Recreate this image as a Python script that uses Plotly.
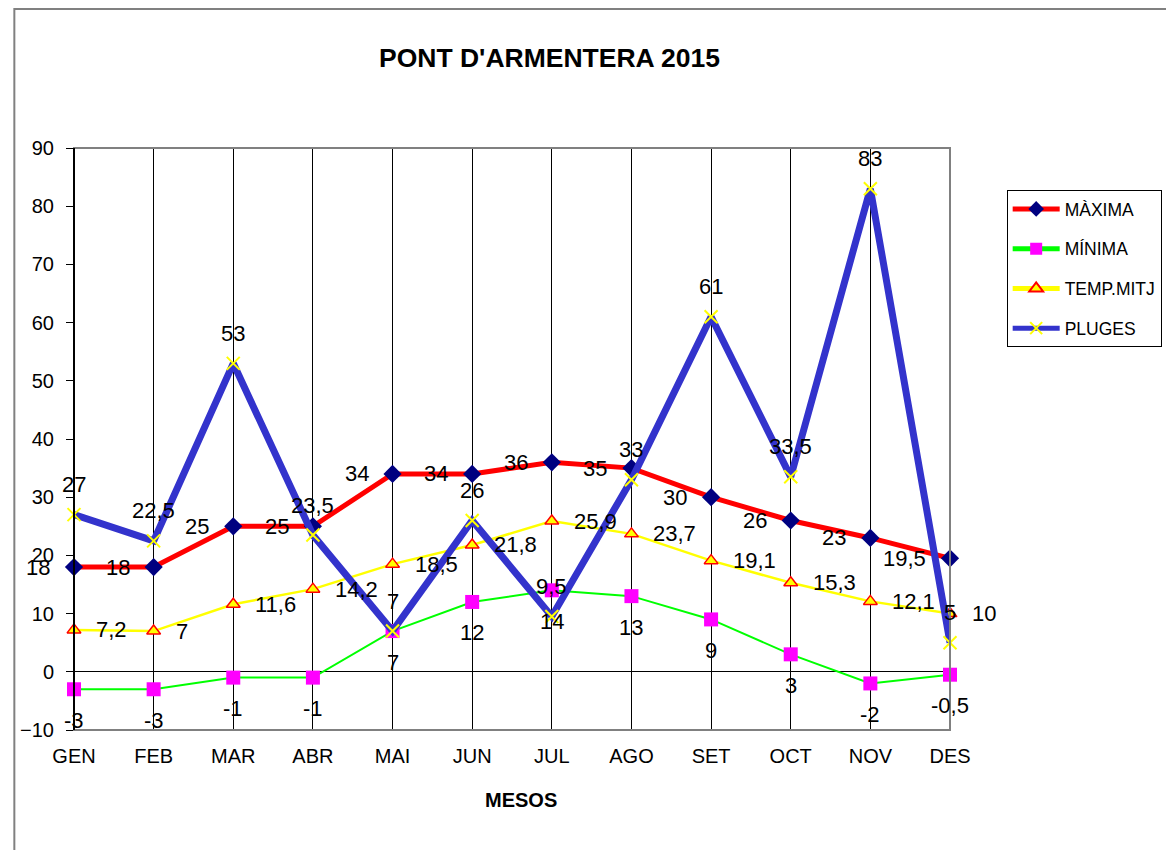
import plotly.graph_objects as go

months = ["GEN", "FEB", "MAR", "ABR", "MAI", "JUN", "JUL", "AGO", "SET", "OCT", "NOV", "DES"]
maxima = [18, 18, 25, 25, 34, 34, 36, 35, 30, 26, 23, 19.5]
minima = [-3, -3, -1, -1, 7, 12, 14, 13, 9, 3, -2, -0.5]
temp_mitj = [7.2, 7, 11.6, 14.2, 18.5, 21.8, 25.9, 23.7, 19.1, 15.3, 12.1, 10]
pluges = [27, 22.5, 53, 23.5, 7, 26, 9.5, 33, 61, 33.5, 83, 5]

FONT = "Liberation Sans, Arial, sans-serif"
OFF = 8  # page body margin
W, H = 1174 - OFF, 850 - OFF
# plot area in screenshot pixels
L, R, T, B = 69, 950, 148, 730
Lf, Rf, Tf, Bf = L - OFF, R - OFF, T - OFF, B - OFF


def px(xp):
    return (xp - L) / (R - L)


def py(yp):
    return (B - yp) / (B - T)


def fmt(v):
    return f"{v:g}".replace(".", ",")


fig = go.Figure()

fig.add_trace(go.Scatter(
    x=months, y=maxima, name="MÀXIMA", mode="lines+markers",
    line=dict(color="#FF0000", width=5),
    marker=dict(symbol="diamond", size=14, color="#000080", line=dict(width=0)),
    cliponaxis=False, legendgroup="a"))
fig.add_trace(go.Scatter(
    x=months, y=minima, name="MÍNIMA", mode="lines+markers",
    line=dict(color="#00FF00", width=2),
    marker=dict(symbol="square", size=14, color="#FF00FF", line=dict(width=0)),
    cliponaxis=False, legendgroup="b"))
fig.add_trace(go.Scatter(
    x=months, y=temp_mitj, name="TEMP.MITJ", mode="lines+markers",
    line=dict(color="#FFFF00", width=2.5),
    marker=dict(symbol="triangle-up", size=12, color="#FFFF00", line=dict(color="#FF0000", width=1.5)),
    cliponaxis=False, legendgroup="c"))
fig.add_trace(go.Scatter(
    x=months, y=pluges, name="PLUGES", mode="lines+markers",
    line=dict(color="#3333CC", width=7),
    marker=dict(symbol="x-thin-open", size=13, color="#FFFF00", line=dict(color="#FFFF00", width=2)),
    cliponaxis=False, legendgroup="d"))

annotations = []
lab_font = dict(family=FONT, size=22, color="black")
for m, v in zip(months, maxima):
    annotations.append(dict(x=m, y=v, xref="x", yref="y", text=fmt(v), showarrow=False,
                            xanchor="right", yanchor="middle", xshift=-22, font=lab_font))
for m, v in zip(months, minima):
    annotations.append(dict(x=m, y=v, xref="x", yref="y", text=fmt(v), showarrow=False,
                            xanchor="center", yanchor="middle", yshift=-31, font=lab_font))
for m, v in zip(months, temp_mitj):
    annotations.append(dict(x=m, y=v, xref="x", yref="y", text=fmt(v), showarrow=False,
                            xanchor="left", yanchor="middle", xshift=20, font=lab_font))
for m, v in zip(months, pluges):
    annotations.append(dict(x=m, y=v, xref="x", yref="y", text=fmt(v), showarrow=False,
                            xanchor="center", yanchor="middle", yshift=30, font=lab_font))

annotations.append(dict(x=px(547.5), y=py(58), xref="paper", yref="paper",
                        text="<b>PONT D'ARMENTERA 2015</b>", showarrow=False,
                        xanchor="center", yanchor="middle",
                        font=dict(family=FONT, size=26.5, color="black")))
annotations.append(dict(x=px(519), y=py(800), xref="paper", yref="paper",
                        text="<b>MESOS</b>", showarrow=False,
                        xanchor="center", yanchor="middle",
                        font=dict(family=FONT, size=20, color="black")))

shapes = [
    dict(type="rect", xref="paper", yref="paper", x0=0, x1=1, y0=0, y1=1,
         line=dict(color="#808080", width=2), layer="above"),
    dict(type="line", xref="paper", yref="paper", x0=0, x1=0, y0=0, y1=1,
         line=dict(color="black", width=2), layer="above"),
    dict(type="rect", xref="paper", yref="paper",
         x0=px(OFF + 1), x1=px(1190), y0=py(870), y1=py(OFF + 1),
         line=dict(color="#808080", width=2), layer="above"),
]

fig.update_layout(
    width=W, height=H,
    margin=dict(l=Lf, r=W - Rf, t=Tf, b=H - Bf, pad=0),
    paper_bgcolor="white", plot_bgcolor="white",
    font=dict(family=FONT, color="black"),
    showlegend=True,
    legend=dict(x=px(1007), y=py(190), xanchor="left", yanchor="top",
                bordercolor="black", borderwidth=1, bgcolor="white",
                font=dict(family=FONT, size=17.5, color="black"),
                tracegroupgap=14, itemwidth=47, itemsizing="constant"),
    xaxis=dict(type="category", range=[0, len(months) - 1], showgrid=True,
               gridcolor="black", gridwidth=1, showline=False, zeroline=False,
               ticks="", ticklabelstandoff=12,
               tickfont=dict(family=FONT, size=20, color="black")),
    yaxis=dict(range=[-10, 90], dtick=10, tick0=0, showgrid=False,
               zeroline=True, zerolinecolor="black", zerolinewidth=1,
               showline=False, ticks="outside", ticklen=7, tickcolor="black", tickwidth=1,
               ticklabelstandoff=8,
               tickfont=dict(family=FONT, size=20, color="black")),
    annotations=annotations,
    shapes=shapes,
)

fig.write_html("out.html")
